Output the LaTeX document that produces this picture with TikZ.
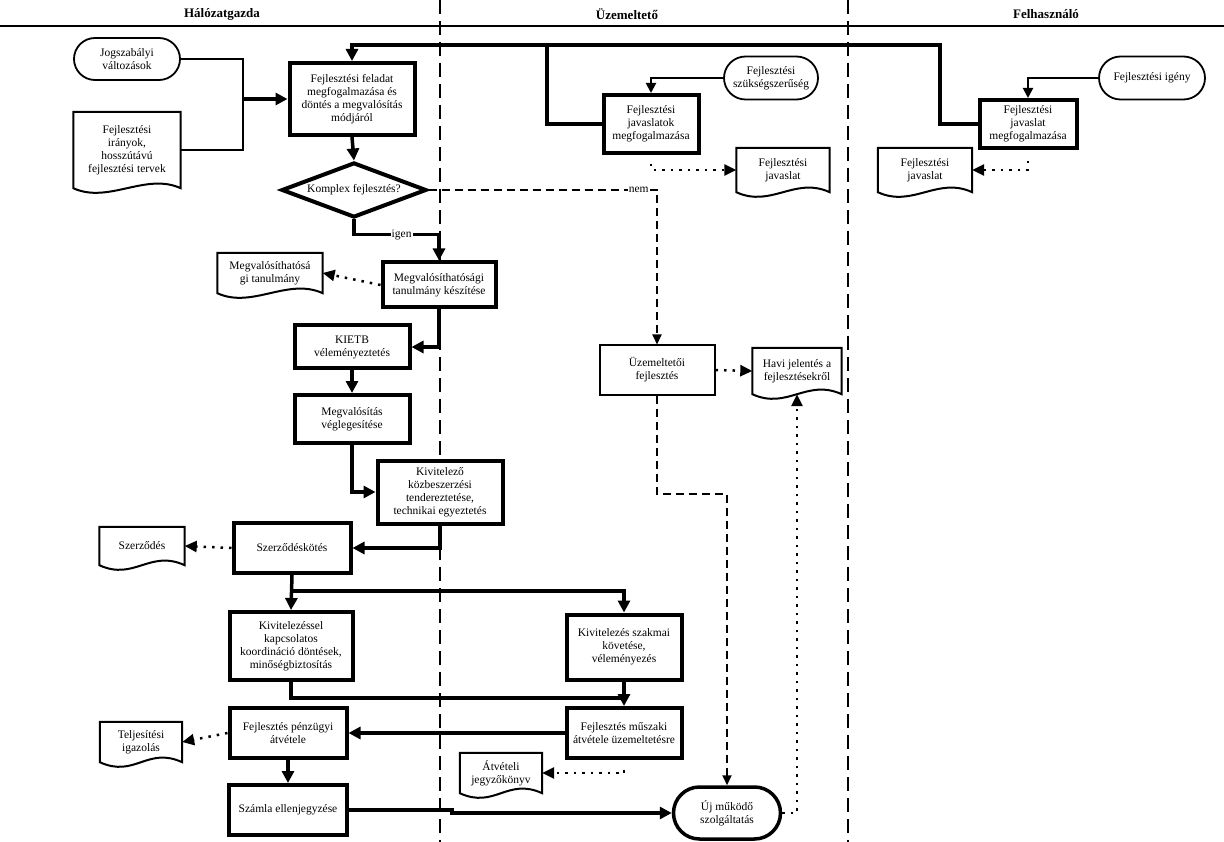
\documentclass[tikz,border=0pt]{standalone}
\usepackage{fontspec}
\setmainfont{Liberation Serif}
\usetikzlibrary{arrows.meta,shapes.geometric,shapes.misc}

% document symbol: box with a wavy bottom edge
\newcommand{\docoutline}[1]{%
  \draw[docline] (#1.south west) -- (#1.north west) -- (#1.north east) -- (#1.south east)
    .. controls +(-35,-16) and +(35,16) .. (#1.south west) -- cycle;}

\begin{document}
\begin{tikzpicture}[x=1pt,y=-1pt,
every node/.style={font=\fontsize{11.5}{13}\selectfont},
task/.style={draw,rectangle,fill=white,line width=4pt,align=center,inner sep=2pt},
plainbox/.style={draw,rectangle,fill=white,line width=2pt,align=center,inner sep=2pt},
term/.style={draw,rounded rectangle,fill=white,line width=1.8pt,align=center,inner sep=2pt},
decision/.style={draw,diamond,aspect=2.6,fill=white,line width=4pt,inner sep=0pt,minimum width=145,minimum height=55},
docbox/.style={rectangle,align=center,inner sep=1pt},
docline/.style={line width=2pt,line join=miter},
lane/.style={line width=2.5pt,dash pattern=on 14pt off 7pt},
flow/.style={line width=3.5pt,-{Triangle[length=12pt,width=12pt]}},
feed/.style={line width=2pt,-{Triangle[length=10pt,width=10pt]}},
dashflow/.style={line width=2pt,dash pattern=on 8pt off 5pt,-{Triangle[length=10pt,width=9pt]}},
dotflow/.style={line width=2.5pt,dash pattern=on 2.5pt off 6pt,-{Triangle[length=12pt,width=11pt]}},
header/.style={font=\bfseries\fontsize{13}{15}\selectfont}]
\useasboundingbox (0,0) rectangle (1224,842);

% lanes
\draw[line width=2.5pt] (0,26) -- (1224,26);
\draw[lane] (440,0) -- (440,842);
\draw[lane] (848,0) -- (848,842);
\node[header] (hhalo) at (222,14) {Hálózatgazda};
\node[header] (huzem) at (627,14) {Üzemeltető};
\node[header] (hfelh) at (1046,14) {Felhasználó};

% Hálózatgazda
\node[term,minimum width=110,minimum height=42] (jogsz) at (127,59) {Jogszabályi\\változások};
\node[docbox,minimum width=107,minimum height=76] (irany) at (127,150) {Fejlesztési\\irányok,\\hosszútávú\\fejlesztési tervek};
\docoutline{irany}
\node[task,minimum width=125,minimum height=72] (feladat) at (352,99) {Fejlesztési feladat\\megfogalmazása és\\döntés a megvalósítás\\módjáról};
\node[decision] (komplex) at (354,190) {Komplex fejlesztés?};
\node[task,minimum width=113,minimum height=45] (megval) at (439,285) {Megvalósíthatósági\\tanulmány készítése};
\node[docbox,minimum width=105,minimum height=40] (megvaldoc) at (270,273) {Megvalósíthatósá\\gi tanulmány};
\docoutline{megvaldoc}
\node[task,minimum width=115,minimum height=43] (kietb) at (352,347) {KIETB\\véleményeztetés};
\node[task,minimum width=115,minimum height=48] (vegleg) at (352,419) {Megvalósítás\\véglegesítése};
\node[task,minimum width=125,minimum height=63] (kivit) at (440,492) {Kivitelező\\közbeszerzési\\tendereztetése,\\technikai egyeztetés};
\node[task,minimum width=117,minimum height=50] (szerz) at (292,548) {Szerződéskötés};
\node[docbox,minimum width=85,minimum height=38] (szerzdoc) at (142,546) {Szerződés};
\docoutline{szerzdoc}
\node[task,minimum width=123,minimum height=68] (koord) at (291,646) {Kivitelezéssel\\kapcsolatos\\koordináció döntések,\\minőségbiztosítás};
\node[task,minimum width=117,minimum height=50] (penzugy) at (288,733) {Fejlesztés pénzügyi\\átvétele};
\node[docbox,minimum width=82,minimum height=40] (teljdoc) at (141,742) {Teljesítési\\igazolás};
\docoutline{teljdoc}
\node[task,minimum width=118,minimum height=50] (szamla) at (288,810) {Számla ellenjegyzése};

% Üzemeltető
\node[term,minimum width=98,minimum height=43] (szuks) at (771,78) {Fejlesztési\\szükségszerűség};
\node[task,minimum width=95,minimum height=58] (javaslatok) at (651,124) {Fejlesztési\\javaslatok\\megfogalmazása};
\node[docbox,minimum width=93,minimum height=44] (javdoc1) at (783,170) {Fejlesztési\\javaslat};
\docoutline{javdoc1}
\node[plainbox,minimum width=115,minimum height=49] (uzem) at (657,370) {Üzemeltetői\\fejlesztés};
\node[docbox,minimum width=89,minimum height=46] (havi) at (797,371) {Havi jelentés a\\fejlesztésekről};
\docoutline{havi}
\node[task,minimum width=115,minimum height=65] (szakmai) at (624,647) {Kivitelezés szakmai\\követése,\\véleményezés};
\node[task,minimum width=115,minimum height=50] (muszaki) at (624,733) {Fejlesztés műszaki\\átvétele üzemeltetésre};
\node[docbox,minimum width=82,minimum height=40] (atvdoc) at (501,773) {Átvételi\\jegyzőkönyv};
\docoutline{atvdoc}
\node[term,line width=3.5pt,minimum width=111,minimum height=52] (uj) at (727,813) {Új működő\\szolgáltatás};

% Felhasználó
\node[term,minimum width=110,minimum height=43] (igeny) at (1152,78) {Fejlesztési igény};
\node[task,minimum width=97,minimum height=48] (javaslat) at (1028,124) {Fejlesztési\\javaslat\\megfogalmazása};
\node[docbox,minimum width=94,minimum height=44] (javdoc2) at (925,170) {Fejlesztési\\javaslat};
\docoutline{javdoc2}

% connectors
\coordinate (gyujto) at (243,99);
\draw[line width=2pt] (jogsz.east) -| (gyujto);
\draw[line width=2pt] (irany.east) -| (gyujto);
\draw[flow] (gyujto) -- (feladat.west);
\coordinate (felsoR) at (940,45);
\coordinate (felsoM) at (547,45);
\draw[flow,line width=4pt] (javaslat.west) -| (felsoR) -| (feladat.north);
\draw[line width=4pt] (javaslatok.west) -| (felsoM);
\draw[flow] (feladat.south) -- (komplex.north);
\draw[flow] (komplex.south) -- ++(0,15) -| node[pos=0.28,fill=white,inner sep=1pt] {igen} (megval.north);
\draw[dashflow] (komplex.east) -| node[pos=0.46,fill=white,inner sep=1pt] {nem} (uzem.north);
\draw[dotflow] (megval.west) -- (megvaldoc.east);
\draw[flow] (megval.south) |- (kietb.east);
\draw[flow] (kietb.south) -- (vegleg.north);
\draw[flow] (vegleg.south) |- (kivit.west);
\draw[flow] (kivit.south) |- (szerz.east);
\draw[dotflow] (szerz.west) -- (szerzdoc.east);
\draw[flow] (szerz.south) -- (koord.north);
\coordinate (elagazas) at ([yshift=-16pt]szerz.south);
\draw[flow] (elagazas) -| (szakmai.north);
\coordinate (osszefut) at ([yshift=8pt]muszaki.north);
\draw[line width=3.5pt] (koord.south) |- (osszefut);
\draw[flow] (szakmai.south) -- (muszaki.north);
\draw[flow] (muszaki.west) -- (penzugy.east);
\draw[dotflow] (penzugy.west) -- (teljdoc.east);
\draw[flow] (penzugy.south) -- (szamla.north);
\draw[flow] (szamla.east) -- ++(103,0) |- (uj.west);
\draw[dotflow] ([yshift=-10pt]muszaki.south) |- (atvdoc.east);
\draw[dashflow] (uzem.south) -- ++(0,98) -| (uj.north);
\draw[dotflow] (uzem.east) -- (havi.west);
\draw[dotflow] (uj.east) -| (havi.south);
\draw[feed] (szuks.west) -| (javaslatok.north);
\draw[dotflow] ([yshift=-9pt]javaslatok.south) |- (javdoc1.west);
\draw[feed] (igeny.west) -| (javaslat.north);
\draw[dotflow] ([yshift=-11pt]javaslat.south) |- (javdoc2.east);

\end{tikzpicture}
\end{document}
